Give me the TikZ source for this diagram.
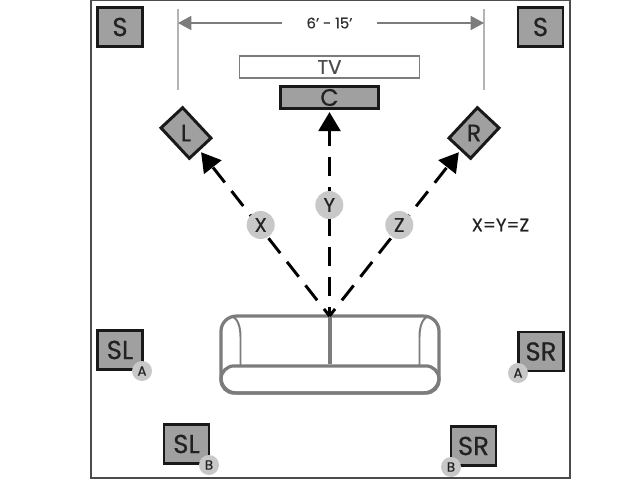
\documentclass[tikz,border=0pt]{standalone}
\usepackage{fontspec}
\setmainfont[RawFeature={embolden=0.5}]{Poppins}
\usepackage{tikz}
\usetikzlibrary{arrows.meta, positioning}
\definecolor{spkgray}{HTML}{A0A0A0}
\definecolor{badgegray}{HTML}{C8C8C8}
\definecolor{sofagray}{HTML}{7C7C7C}
\definecolor{tickgray}{HTML}{B4B4B4}
\definecolor{txtblack}{HTML}{222222}

\begin{document}
\begin{tikzpicture}[
    x=0.025cm, y=-0.025cm,
    spk/.style={draw=black!90, line width=2.1pt, fill=spkgray, minimum width=1.125cm, minimum height=0.975cm, inner sep=0pt, text=txtblack, font=\fontsize{18.5}{18}\selectfont},
    tilted/.style={draw=black!90, line width=2.1pt, fill=spkgray, minimum width=1.04cm, minimum height=0.74cm, inner sep=0pt},
    tag/.style={circle, fill=badgegray, minimum size=0.5cm, inner sep=0pt, text=txtblack, font=\fontsize{9.5}{10}\selectfont},
    dist/.style={circle, fill=badgegray, minimum size=0.7cm, inner sep=0pt, text=txtblack, font=\fontsize{14}{14}\selectfont},
    ar/.style={-{Triangle[length=13.5pt, width=15.5pt]}, line width=2.1pt, black, dash pattern=on 13.5pt off 7.8pt, dash phase=7.1pt, shorten >=1.5pt},
    dimar/.style={-{Triangle[length=9.5pt, width=10pt]}, line width=1.1pt, sofagray},
    tick/.style={line width=1.1pt, tickgray},
    sofa/.style={draw=sofagray, line width=2.3pt, rounded corners=0.38cm, minimum width=5.45cm, inner sep=0pt}
]
\useasboundingbox (0,0) rectangle (640,480);
\node[draw=black!70, line width=1.5pt, minimum width=11.95cm, minimum height=11.93cm, inner sep=0pt] (room) at (330.5,239) {};

% front speakers and screen
\node[draw=sofagray, line width=1.3pt, minimum width=4.5cm, minimum height=0.55cm, inner sep=0pt, text=black!70, font=\fontsize{14}{14}\selectfont] (tv) at (329.5,67) {TV};
\node[spk, minimum width=2.45cm, minimum height=0.55cm, font=\fontsize{17}{17}\selectfont] (c) at (329.5,97.5) {C};
\node[tilted, rotate=-47] (l) at (186,133) {};
\node[tilted, rotate=47] (r) at (474,133) {};
\node[text=txtblack, font=\fontsize{17}{17}\selectfont] at (l) {L};
\node[text=txtblack, font=\fontsize{17}{17}\selectfont] at (r) {R};

% rear speakers
\node[spk] (sTL) at (120,27) {S};
\node[spk] (sTR) at (540.5,27) {S};
\node[spk] (slA) at (120,350) {SL};
\node[spk] (slB) at (186.5,444) {SL};
\node[spk] (srA) at (541,351.5) {SR};
\node[spk] (srB) at (473.5,446) {SR};
\node[tag] (tagSlA) at (142,371) {A};
\node[tag] (tagSlB) at (209,465) {B};
\node[tag] (tagSrA) at (518,373) {A};
\node[tag] (tagSrB) at (451,467) {B};

% sofa
\node[sofa, minimum height=1.92cm] (couch) at (330,354.5) {};
\node[sofa, minimum height=0.68cm, rounded corners=0.33cm] (seat) at (330,379.5) {};
\draw[draw=sofagray, line width=2.3pt] (couch.north -| seat.north) -- (seat.north);
\draw[draw=sofagray, line width=1.4pt] (232,316) .. controls (238,319) and (240.5,327) .. (240.5,337) -- (240.5,365);
\draw[draw=sofagray, line width=1.4pt] (428,316) .. controls (422,319) and (419.5,327) .. (419.5,337) -- (419.5,365);

% width between the mains
\coordinate (lTop) at (178,9);
\coordinate (lBot) at (178,90);
\coordinate (rTop) at (484,9);
\coordinate (rBot) at (484,90);
\draw[tick] (lTop) -- (lBot);
\draw[tick] (rTop) -- (rBot);
\node[minimum width=2.38cm, inner sep=0pt, text=black!80, font=\fontsize{10.5}{11}\selectfont] (span) at (329.5,23) {6' - 15'};
\coordinate (lTip) at (178,23);
\coordinate (rTip) at (484,23);
\draw[dimar] (span) -- (lTip);
\draw[dimar] (span) -- (rTip);

% listening position
\coordinate (ear) at (329.5,316);
\draw[ar] (ear) -- (l);
\draw[ar] (ear) -- (c);
\draw[ar] (ear) -- (r);
\node[dist] (x) at (260.7,225) {X};
\node[dist] (y) at (329.3,205) {Y};
\node[dist] (z) at (399.3,225) {Z};
\node[text=txtblack, font=\fontsize{12.8}{13}\selectfont] (same) at (500.5,225) {X=Y=Z};
\end{tikzpicture}
\end{document}
